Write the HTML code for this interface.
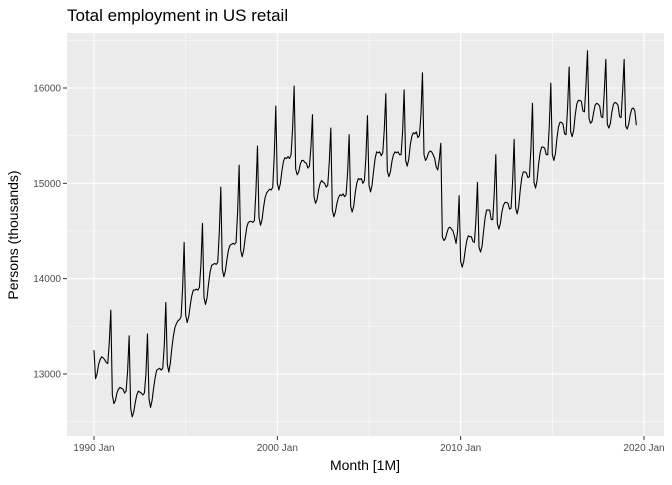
<!DOCTYPE html>
<html><head><meta charset="utf-8"><style>
body{margin:0;background:#fff;font-family:"Liberation Sans",sans-serif}
</style></head><body>
<svg id="c" width="672" height="480" xmlns="http://www.w3.org/2000/svg">
<text x="67" y="21" font-size="17" fill="#000">Total employment in US retail</text>
<rect x="67" y="33" width="597" height="403" fill="#ebebeb"/>
<g id="grid"></g><g id="axes"></g>
<text x="365" y="470" font-size="14" text-anchor="middle">Month [1M]</text>
<text transform="translate(18,235) rotate(-90)" font-size="14" text-anchor="middle">Persons (thousands)</text>
</svg>
<script>
const startYear = 1990;
const employment = [
13250,12950,13000,13100,13150,13180,13170,13150,13120,13110,13330,13670,
12780,12690,12720,12800,12840,12860,12850,12840,12800,12820,13030,13400,
12640,12550,12600,12700,12780,12820,12810,12800,12780,12800,13000,13420,
12740,12650,12720,12850,12960,13040,13050,13060,13040,13060,13300,13750,
13100,13020,13120,13280,13400,13490,13530,13560,13570,13600,13900,14380,
13620,13540,13600,13720,13820,13880,13880,13890,13880,13910,14150,14580,
13800,13730,13800,13950,14070,14140,14150,14160,14150,14170,14480,14960,
14100,14020,14080,14200,14300,14350,14360,14370,14360,14380,14700,15190,
14300,14230,14300,14430,14540,14590,14600,14600,14590,14610,14920,15390,
14640,14560,14620,14750,14850,14900,14920,14940,14930,14960,15300,15810,
15000,14930,15000,15130,15230,15270,15260,15280,15260,15300,15580,16020,
15150,15090,15120,15200,15240,15240,15220,15210,15160,15180,15380,15720,
14860,14790,14830,14930,15000,15030,15010,15000,14960,14980,15220,15580,
14720,14650,14700,14790,14850,14880,14870,14890,14860,14880,15110,15510,
14760,14700,14760,14900,15000,15050,15040,15050,15000,15030,15280,15710,
14980,14910,14980,15130,15260,15330,15320,15330,15290,15320,15560,15940,
15130,15070,15120,15230,15300,15330,15320,15330,15300,15300,15540,15980,
15240,15180,15250,15400,15490,15530,15520,15540,15480,15500,15720,16160,
15300,15240,15270,15320,15340,15330,15300,15260,15170,15140,15250,15420,
14440,14400,14420,14480,14530,14540,14520,14500,14440,14370,14500,14870,
14180,14120,14180,14300,14400,14450,14440,14440,14390,14380,14620,15010,
14330,14280,14340,14500,14640,14720,14720,14720,14620,14620,14900,15300,
14580,14520,14580,14700,14770,14800,14800,14790,14730,14740,15020,15460,
14740,14680,14760,14930,15060,15120,15120,15110,15060,15070,15370,15840,
15010,14950,15030,15200,15320,15380,15380,15370,15300,15300,15600,16050,
15300,15240,15310,15470,15590,15640,15640,15620,15520,15510,15800,16220,
15540,15490,15560,15720,15830,15870,15870,15860,15760,15750,16020,16390,
15680,15630,15650,15740,15820,15840,15830,15810,15700,15690,15960,16300,
15620,15580,15630,15750,15830,15850,15840,15820,15700,15690,15960,16300,
15600,15570,15620,15720,15780,15790,15760,15610];
const yTicks = [13000,14000,15000,16000];
const yMinor = [12500,13500,14500,15500,16500];
const xTickYears = [1990,2000,2010,2020];
const xMinorYears = [1995,2005,2015];

const NS="http://www.w3.org/2000/svg";
const X = m => 94 + m*(644-94)/360;
const XY = yr => X((yr-startYear)*12);
const Y = v => 88 + (16000-v)*0.09533;
function mk(tag, attrs, parent){const e=document.createElementNS(NS,tag);for(const k in attrs)e.setAttribute(k,attrs[k]);parent.appendChild(e);return e;}
const grid=document.getElementById('grid'), axes=document.getElementById('axes'), svg=document.getElementById('c');
yMinor.forEach(v=>{const y=Y(v);if(y<33||y>436)return;const l=mk('line',{x1:67,x2:664,y1:y,y2:y,stroke:'#fff','stroke-width':0.5},grid);

});
xMinorYears.forEach(yr=>{const x=XY(yr);const l=mk('line',{x1:x,x2:x,y1:33,y2:436,stroke:'#fff','stroke-width':0.5},grid);

});
yTicks.forEach(v=>{const y=Y(v);const l=mk('line',{x1:67,x2:664,y1:y,y2:y,stroke:'#fff','stroke-width':1.1},grid);


const t=mk('line',{x1:63,x2:67,y1:y,y2:y,stroke:'#333','stroke-width':1},axes);


const tx=mk('text',{x:61,y:y+3.5,'font-size':10,'text-anchor':'end',fill:'#4d4d4d'},axes);tx.textContent=v;

});
xTickYears.forEach(yr=>{const x=XY(yr);const l=mk('line',{x1:x,x2:x,y1:33,y2:436,stroke:'#fff','stroke-width':1.1},grid);


const t=mk('line',{x1:x,x2:x,y1:436,y2:440,stroke:'#333','stroke-width':1},axes);


const tx=mk('text',{x:x,y:451,'font-size':10,'text-anchor':'middle',fill:'#4d4d4d'},axes);tx.textContent=yr+' Jan';

});
const pts=employment.map((v,i)=>X(i).toFixed(2)+','+Y(v).toFixed(2)).join(' ');
const line=mk('polyline',{points:pts,fill:'none',stroke:'#000','stroke-width':1.1,'stroke-linejoin':'round'},svg);


</script>
</body></html>
